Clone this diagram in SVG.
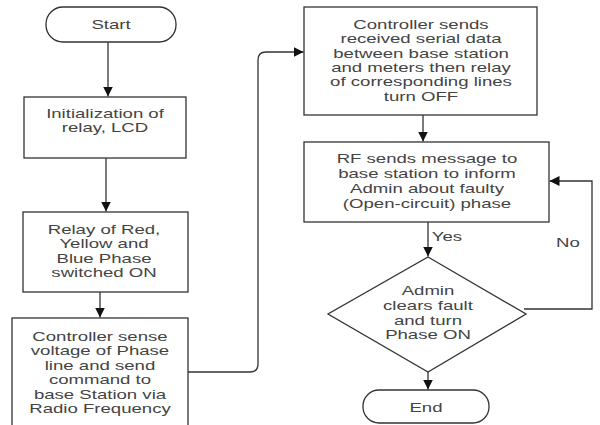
<svg xmlns="http://www.w3.org/2000/svg" width="600" height="425" viewBox="0 0 600 425">
<style>
.box{fill:#fff;stroke:#333;stroke-width:1.3}
.ln{fill:none;stroke:#333;stroke-width:1.3}
text{font-family:"Liberation Sans",Arial,sans-serif;font-size:13px;fill:#444;text-anchor:middle}
</style>
<defs>
<marker id="ah" viewBox="0 0 10 10" refX="10" refY="5" markerWidth="10" markerHeight="10" markerUnits="userSpaceOnUse" orient="auto">
<path d="M0,0 L10,5 L0,10 Z" fill="#111"/>
</marker>
</defs>
<rect width="600" height="425" fill="#fff"/>
<g id="connectors">
<path class="ln" d="M108,42 V96.5" marker-end="url(#ah)"/>
<path class="ln" d="M106,158 V211.5" marker-end="url(#ah)"/>
<path class="ln" d="M100,292 V317.5" marker-end="url(#ah)"/>
<path class="ln" d="M188,372 H250 Q258,372 258,364 V60 Q258,52 266,52 H303.5" marker-end="url(#ah)"/>
<path class="ln" d="M423,115 V141.5" marker-end="url(#ah)"/>
<path class="ln" d="M428,222 V256.5" marker-end="url(#ah)"/>
<path class="ln" d="M524,309 H592 V181 H549.5" marker-end="url(#ah)"/>
<path class="ln" d="M428,372 V389.5" marker-end="url(#ah)"/>
<text transform="translate(447,241) scale(1.43,1)" x="0" y="0">Yes</text>
<text transform="translate(568,247) scale(1.43,1)" x="0" y="0">No</text>
</g>
<g id="start">
<rect class="box" x="46" y="7" width="130" height="35" rx="17" ry="17"/>
<text transform="translate(111,29) scale(1.43,1)" x="0" y="0">Start</text>
</g>
<g id="init">
<rect class="box" x="24" y="97" width="162" height="61"/>
<text transform="translate(105,0) scale(1.43,1)"><tspan x="0" y="118">Initialization of</tspan><tspan x="0" y="132">relay, LCD</tspan></text>
</g>
<g id="relay">
<rect class="box" x="23" y="212" width="165" height="80"/>
<text transform="translate(104,0) scale(1.43,1)"><tspan x="0" y="234">Relay of Red,</tspan><tspan x="0" y="248.5">Yellow and</tspan><tspan x="0" y="263">Blue Phase</tspan><tspan x="0" y="277.5">switched ON</tspan></text>
</g>
<g id="sense">
<rect class="box" x="12" y="318" width="176" height="120"/>
<text transform="translate(100,0) scale(1.43,1)"><tspan x="0" y="341">Controller sense</tspan><tspan x="0" y="355.5">voltage of Phase</tspan><tspan x="0" y="370">line and send</tspan><tspan x="0" y="384.5">command to</tspan><tspan x="0" y="399">base Station via</tspan><tspan x="0" y="413">Radio Frequency</tspan></text>
</g>
<g id="sends">
<rect class="box" x="304" y="7" width="233" height="108"/>
<text transform="translate(421,0) scale(1.43,1)"><tspan x="0" y="29">Controller sends</tspan><tspan x="0" y="43.5">received serial data</tspan><tspan x="0" y="58">between base station</tspan><tspan x="0" y="72">and meters then relay</tspan><tspan x="0" y="86.5">of corresponding lines</tspan><tspan x="0" y="101">turn OFF</tspan></text>
</g>
<g id="rf">
<rect class="box" x="304" y="142" width="245" height="80"/>
<text transform="translate(427,0) scale(1.43,1)"><tspan x="0" y="163.5">RF sends message to</tspan><tspan x="0" y="178.5">base station to inform</tspan><tspan x="0" y="193.5">Admin about faulty</tspan><tspan x="0" y="208">(Open-circuit) phase</tspan></text>
</g>
<g id="admin">
<polygon class="box" points="428,257 526,314 428,372 328,314"/>
<text transform="translate(428,0) scale(1.43,1)"><tspan x="0" y="295.5">Admin</tspan><tspan x="0" y="310.5">clears fault</tspan><tspan x="0" y="325">and turn</tspan><tspan x="0" y="339.5">Phase ON</tspan></text>
</g>
<g id="end">
<rect class="box" x="363" y="390" width="126" height="33" rx="16" ry="16"/>
<text transform="translate(426,411.5) scale(1.43,1)" x="0" y="0">End</text>
</g>
</svg>
